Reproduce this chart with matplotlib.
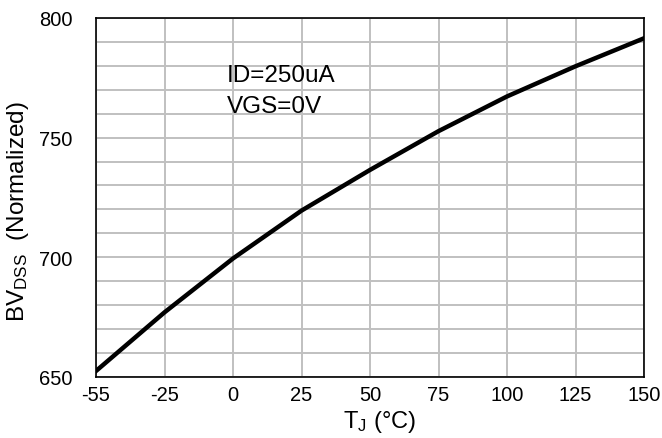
import matplotlib
matplotlib.use("Agg")
import matplotlib.pyplot as plt

plt.rcParams['font.family'] = ['Liberation Sans', 'DejaVu Sans']
plt.rcParams['mathtext.fontset'] = 'custom'
plt.rcParams['mathtext.rm'] = 'Liberation Sans'
plt.rcParams['mathtext.it'] = 'Liberation Sans'

# data (Excel line chart, equally spaced categories)
temps = ['-55', '-25', '0', '25', '50', '75', '100', '125', '150']
bvdss = [652.5, 677, 699.5, 719.5, 736.5, 752.7, 767.2, 779.8, 791.5]
ytick_vals = list(range(650, 801, 10))

fig = plt.figure(figsize=(6.62, 4.39), dpi=100)
ax = fig.add_axes([0.145, 0.139, 0.828, 0.818])

pos = list(range(len(temps)))
ax.plot(pos, bvdss, color='black', lw=3.2, solid_joinstyle='round', zorder=3)

ax.set_xlim(0, len(temps) - 1)
ax.set_ylim(650, 800)
ax.set_xticks(pos)
ax.set_xticklabels(temps)
ax.set_yticks(ytick_vals)
ax.set_yticklabels([str(v) if v % 50 == 0 else '' for v in ytick_vals])
ax.tick_params(length=0, labelsize=14.5)
ax.tick_params(axis='x', pad=6)
ax.tick_params(axis='y', pad=17)
ax.grid(True, color='#c0c0c0', lw=1.4)
ax.set_axisbelow(True)
for s in ax.spines.values():
    s.set_color('black')
    s.set_linewidth(1.2)

ax.set_xlabel(r'T$_{\mathrm{J}}$ (°C)', fontsize=17)
ax.set_ylabel(r'BV$_{\mathrm{DSS}}$  (Normalized)', fontsize=17.5)
ax.xaxis.set_label_coords(0.518, -0.085)
ax.yaxis.set_label_coords(-0.118, 0.462)

ax.text(0.239, 0.8245, 'ID=250uA', transform=ax.transAxes,
        fontsize=17.5, va='baseline', ha='left')
ax.text(0.239, 0.738, 'VGS=0V', transform=ax.transAxes,
        fontsize=17.5, va='baseline', ha='left')

fig.savefig('out.png', dpi=100)
